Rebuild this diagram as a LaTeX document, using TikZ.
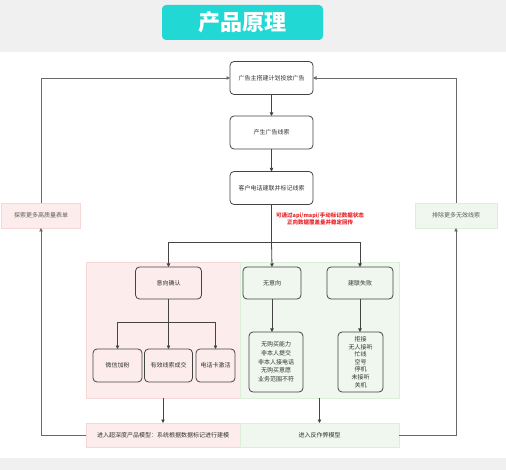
\documentclass[tikz,border=0pt]{standalone}
\usepackage{fontspec}
\setmainfont{Noto Sans CJK SC}
\usetikzlibrary{arrows.meta,positioning}
\definecolor{bgray}{HTML}{F0F0F0}
\definecolor{teal}{HTML}{22D8D4}
\definecolor{pinkf}{HTML}{FCEDEC}
\definecolor{pinkd}{HTML}{F6D7D7}
\definecolor{greenf}{HTML}{EFF7EE}
\definecolor{greend}{HTML}{DCEDDA}
\definecolor{lined}{HTML}{444444}
\definecolor{txt}{HTML}{333333}
\definecolor{redt}{HTML}{E8262B}
\begin{document}
\begin{tikzpicture}[x=1pt,y=-1pt,
  every node/.style={inner sep=0pt,outer sep=0pt,text=txt,font=\fontsize{6}{8}\selectfont},
  rbox/.style={draw=lined,line width=0.8pt,rounded corners=4pt,minimum height=33pt,align=center},
  flat/.style={draw=#1,line width=0.6pt},
  conn/.style={draw=lined,line width=0.8pt,-{Triangle[length=3.5pt,width=3.5pt]}},
  loopl/.style={draw=lined!80,line width=0.9pt}
]
\useasboundingbox (0,0) rectangle (506,470);
\fill[bgray] (0,0) rectangle (506,470);
\fill[white] (0,52) rectangle (506,458);
% title
\node[fill=teal,rounded corners=4pt,minimum width=161pt,minimum height=35pt,text=white,font=\fontsize{22}{24}\selectfont\bfseries] (title) at (242.5,22.5) {产品原理};
% main column
\node[rbox,minimum width=83pt] (b1) at (271.5,78) {广告主搭建计划投放广告};
\node[rbox,minimum width=83pt] (b2) at (271.5,132.5) {产生广告线索};
\node[rbox,minimum width=83pt] (b3) at (271.5,188) {客户电话建联并标记线索};
% side boxes
\node[fill=pinkf,flat=pinkd,minimum width=79pt,minimum height=25pt,text=txt!80] (sl) at (41,215.5) {探索更多高质量表单};
\node[fill=greenf,flat=greend,minimum width=82pt,minimum height=25pt,text=txt!80] (sr) at (456,215.5) {排除更多无效线索};
% panels
\node[fill=pinkf,flat=pinkd,minimum width=154pt,minimum height=136pt] (pp) at (163,330) {};
\node[fill=greenf,flat=greend,minimum width=159pt,minimum height=136pt] (gp) at (319.5,330) {};
% red note
\node[text=redt,align=center,font=\fontsize{5.5}{7.5}\selectfont\bfseries] (note) at (320,219) {可通过api/mapi/手动标记数据状态\\正向数据覆盖量并稳定回传};
% second level
\node[rbox,minimum width=66pt,minimum height=32pt] (yx) at (168.5,283) {意向确认};
\node[rbox,minimum width=58pt,minimum height=32pt] (wy) at (272,283) {无意向};
\node[rbox,minimum width=66pt,minimum height=32pt] (jl) at (360,283) {建联失败};
% children
\node[rbox,minimum width=49pt] (c1) at (117.5,365.5) {微信加粉};
\node[rbox,minimum width=48pt] (c2) at (168.5,365.5) {有效线索成交};
\node[rbox,minimum width=39pt] (c3) at (215.5,365.5) {电话卡激活};
\node[rbox,minimum width=54pt,minimum height=60pt,font=\fontsize{6}{8.7}\selectfont] (wl) at (276,362) {无购买能力\\非本人提交\\非本人接电话\\无购买意愿\\业务范围不符};
\node[rbox,minimum width=45pt,minimum height=60pt,font=\fontsize{6}{7.6}\selectfont] (jf) at (360.5,362) {拒接\\无人接听\\忙线\\空号\\停机\\未接听\\关机};
% bottom
\node[fill=pinkf,flat=pinkd,minimum width=154pt,minimum height=24pt] (bp) at (163,435) {进入超深度产品模型：系统根据数据标记进行建模};
\node[fill=greenf,flat=greend,minimum width=159pt,minimum height=24pt] (bg) at (319.5,435) {进入反作弊模型};
% connectors
\draw[conn] (b1) -- (b2);
\draw[conn] (b2) -- (b3);
\coordinate (sp) at (271.5,242);
\draw[draw=lined,line width=0.8pt] (b3.south) -- (sp);
\draw[conn] (sp) -| (yx.north);
\draw[conn] (sp) -- (wy.north);
\draw[conn] (sp) -| (jl.north);
\coordinate (cs) at (168.5,322);
\draw[conn] (yx.south) -- (c2.north);
\draw[conn] (cs) -| (c1.north);
\draw[conn] (cs) -| (c3.north);
\draw[conn] (wy.south) -- (wy.south |- wl.north);
\draw[conn] (jl.south) -- (jl.south |- jf.north);
\draw[conn] (pp.south) -- (bp.north);
\draw[conn] (gp.south) -- (bg.north);
% loops
\draw[loopl,-{Triangle[length=3.5pt,width=3.5pt]}] (bp.west) -| (sl.south);
\draw[loopl,-{Triangle[length=3.5pt,width=3.5pt]}] (sl.north) |- (b1.west);
\draw[loopl,-{Triangle[length=3.5pt,width=3.5pt]}] (bg.east) -| (sr.south);
\draw[loopl,-{Triangle[length=3.5pt,width=3.5pt]}] (sr.north) |- (b1.east);
\end{tikzpicture}
\end{document}
